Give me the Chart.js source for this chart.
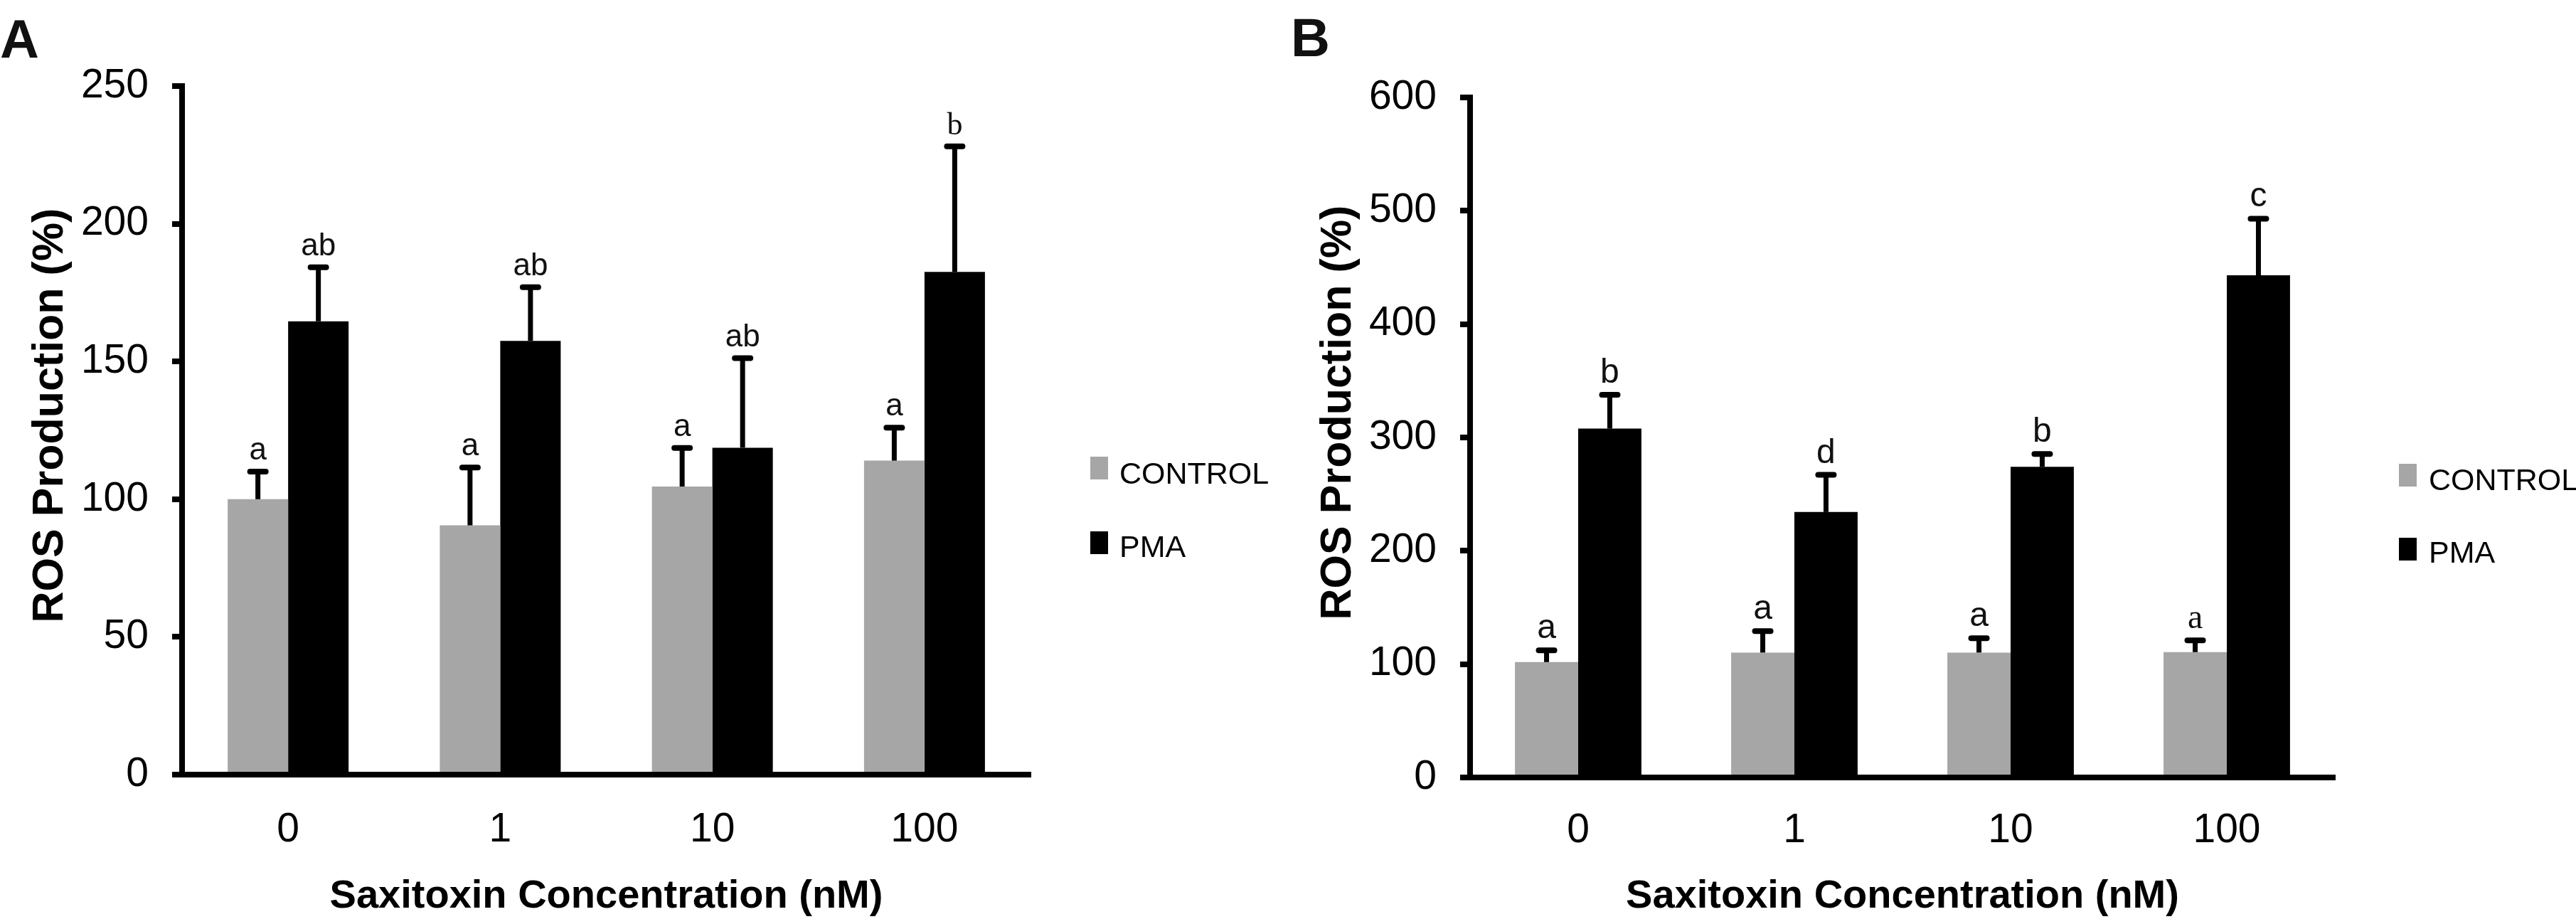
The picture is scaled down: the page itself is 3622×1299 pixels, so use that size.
<!DOCTYPE html>
<html>
<head>
<meta charset="utf-8">
<script src="https://cdn.jsdelivr.net/npm/chart.js@4.4.0/dist/chart.umd.min.js"></script>
<style>
  body { margin: 0; background: #fff; }
  #wrap { position: relative; width: 3622px; height: 1299px; }
  canvas { position: absolute; top: 0; }
  #chartA { left: 0; }
  #chartB { left: 1811px; }
</style>
</head>
<body>
<div id="wrap">
  <canvas id="chartA" width="1811" height="1299"></canvas>
  <canvas id="chartB" width="1811" height="1299"></canvas>
</div>
<script>
let concentrations = ['0', '1', '10', '100'];
let seriesNames = ['CONTROL', 'PMA'];
let xTitle = 'Saxitoxin Concentration (nM)';
let yTitle = 'ROS Production (%)';

// panel A
let controlA = [100, 90.5, 104.6, 114];
let controlErrA = [10, 21, 14, 12];
let pmaA = [164.6, 157.5, 118.7, 182.5];
let pmaErrA = [19.6, 19.5, 32.5, 45.6];
let controlLettersA = ['a', 'a', 'a', 'a'];
let pmaLettersA = ['ab', 'ab', 'ab', 'b'];
let ticksA = [0, 50, 100, 150, 200, 250];

// panel B
let controlB = [101.8, 110.2, 110.2, 110.6];
let controlErrB = [10.4, 18.9, 12.6, 10.4];
let pmaB = [307.8, 234.2, 274.1, 443.1];
let pmaErrB = [29.8, 32.8, 11.3, 49.9];
let controlLettersB = ['a', 'a', 'a', 'a'];
let pmaLettersB = ['b', 'd', 'b', 'c'];
let ticksB = [0, 100, 200, 300, 400, 500, 600];

const SANS = "'Liberation Sans', Arial, sans-serif";
const SERIF = "'Liberation Serif', 'Times New Roman', serif";
const GREY = '#a6a6a6';

// error bars + significance letters on top of each bar
const errorBarPlugin = {
    id: 'errorBars',
    afterDatasetsDraw(chart, args, opts) {
        let ctx = chart.ctx;
        let yScale = chart.scales.y;
        chart.data.datasets.forEach((ds, i) => {
            let meta = chart.getDatasetMeta(i);
            meta.data.forEach((bar, j) => {
                let top = yScale.getPixelForValue(ds.data[j] + ds.errors[j]);
                ctx.save();
                ctx.strokeStyle = '#000';
                ctx.lineWidth = 7;
                ctx.beginPath();
                ctx.moveTo(bar.x, bar.y);
                ctx.lineTo(bar.x, top);
                ctx.stroke();
                ctx.lineWidth = 8;
                ctx.lineCap = 'round';
                ctx.beginPath();
                ctx.moveTo(bar.x - 11, top);
                ctx.lineTo(bar.x + 11, top);
                ctx.stroke();
                let serif = (opts.serif || []).some(p => p[0] === i && p[1] === j);
                ctx.fillStyle = '#111';
                ctx.font = opts.letterSize + 'px ' + (serif ? SERIF : SANS);
                ctx.textAlign = 'center';
                ctx.textBaseline = 'alphabetic';
                ctx.fillText(ds.letters[j], bar.x, top - 17);
                ctx.restore();
            });
        });
    }
};

// legend on the right, y title and panel letter
const sideLegendPlugin = {
    id: 'sideLegend',
    afterDraw(chart, args, opts) {
        let ctx = chart.ctx;
        let right = chart.chartArea.right;
        ctx.save();
        chart.data.datasets.forEach((ds, i) => {
            let item = opts.items[i];
            ctx.fillStyle = ds.backgroundColor;
            ctx.fillRect(right + opts.boxX, item.boxTop, 25, 32);
            ctx.fillStyle = '#000';
            ctx.font = '43px ' + SANS;
            ctx.textAlign = 'left';
            ctx.textBaseline = 'alphabetic';
            ctx.fillText(ds.label, right + opts.textX, item.baseline);
        });
        ctx.font = 'bold 76px ' + SANS;
        ctx.fillStyle = '#111';
        ctx.fillText(opts.panel, opts.panelX, opts.panelY);

        // rotated y axis title
        ctx.translate(88, opts.titleY);
        ctx.rotate(-Math.PI / 2);
        ctx.font = 'bold 61px ' + SANS;
        ctx.fillStyle = '#000';
        ctx.textAlign = 'center';
        ctx.fillText(yTitle, 0, 0);
        ctx.restore();
    }
};

function makeChart(id, control, controlErr, controlLetters, pma, pmaErr, pmaLetters, ticks, layout) {
    let ctx = document.getElementById(id).getContext('2d');
    return new Chart(ctx, {
        type: 'bar',
        data: {
            labels: concentrations,
            datasets: [{
                label: seriesNames[0],
                data: control,
                errors: controlErr,
                letters: controlLetters,
                backgroundColor: GREY,
                borderWidth: 0
            }, {
                label: seriesNames[1],
                data: pma,
                errors: pmaErr,
                letters: pmaLetters,
                backgroundColor: '#000',
                borderWidth: 0
            }]
        },
        options: {
            responsive: false,
            animation: false,
            categoryPercentage: layout.catPct,
            barPercentage: 1,
            layout: {
                padding: {top: layout.top, right: layout.right, bottom: 0, left: 0}
            },
            plugins: {
                legend: {display: false},
                tooltip: {enabled: false},
                errorBars: {letterSize: layout.letterSize, serif: layout.serif},
                sideLegend: layout.legend
            },
            scales: {
                x: {
                    z: 1,
                    grid: {display: false, drawTicks: false},
                    border: {display: true, color: '#000', width: 8},
                    ticks: {color: '#000', font: {family: SANS, size: 57}, padding: layout.xPad},
                    title: {
                        display: true,
                        text: xTitle,
                        color: '#000',
                        font: {family: SANS, size: 56, weight: 'bold'},
                        padding: {top: 0, bottom: 5}
                    },
                    afterFit: scale => { scale.height = layout.xHeight; }
                },
                y: {
                    min: ticks[0],
                    max: ticks[ticks.length - 1],
                    afterBuildTicks: scale => { scale.ticks = ticks.map(v => ({value: v})); },
                    grid: {drawOnChartArea: false, drawTicks: true, tickLength: 14, lineWidth: 8, tickColor: '#000'},
                    border: {display: true, color: '#000', width: 8},
                    ticks: {color: '#000', font: {family: SANS, size: 57}, padding: 33},
                    afterFit: scale => { scale.width = 256; }
                }
            }
        },
        plugins: [errorBarPlugin, sideLegendPlugin]
    });
}

makeChart('chartA', controlA, controlErrA, controlLettersA, pmaA, pmaErrA, pmaLettersA, ticksA, {
    top: 121, right: 362, xHeight: 210, xPad: 44, catPct: 0.57, letterSize: 44,
    serif: [[1, 3]],
    legend: {
        panel: 'A', panelX: 0, panelY: 81, boxX: 84, textX: 125, titleY: 584,
        items: [{boxTop: 642, baseline: 680}, {boxTop: 747, baseline: 783}]
    }
});

makeChart('chartB', controlB, controlErrB, controlLettersB, pmaB, pmaErrB, pmaLettersB, ticksB, {
    top: 137, right: 339, xHeight: 206, xPad: 41, catPct: 0.585, letterSize: 48,
    serif: [[0, 3]],
    legend: {
        panel: 'B', panelX: 4, panelY: 79, boxX: 90, textX: 132, titleY: 580,
        items: [{boxTop: 652, baseline: 689}, {boxTop: 756, baseline: 791}]
    }
});
</script>
</body>
</html>
